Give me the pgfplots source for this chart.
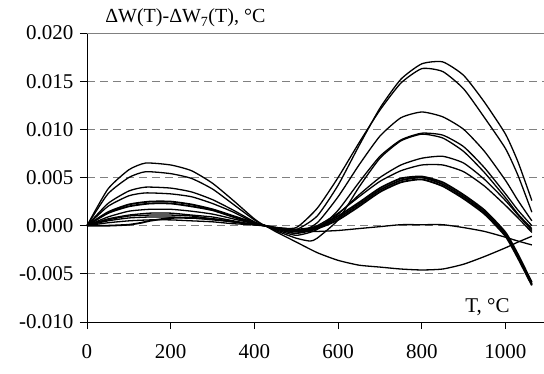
\documentclass[border=0pt]{standalone}
\usepackage{fontspec}
\setmainfont{Liberation Serif}
\usepackage{pgfplots}
\pgfplotsset{compat=1.18}
\pgfplotsset{
  thinc/.style={black, solid, mark=none, line width=1.3pt, smooth, tension=0.35},
  thickc/.style={black, solid, mark=none, line width=1.8pt, smooth, tension=0.35},
}
\begin{document}
\begin{tikzpicture}
\begin{axis}[
  scale only axis,
  width=457pt, height=289pt,
  xmin=0, xmax=1092, ymin=-0.010, ymax=0.020,
  axis x line*=bottom, axis y line*=left,
  axis line style={black, line width=0.9pt, -},
  xtick={0,200,400,600,800,1000},
  ytick={-0.010,-0.005,0,0.005,0.010,0.015,0.020},
  scaled y ticks=false,
  /pgf/number format/assume math mode=true,
  /pgf/number format/1000 sep={},
  yticklabel={\pgfmathprintnumber[fixed,fixed zerofill,precision=3,assume math mode=true]{\tick}},
  tick align=outside, major tick length=7pt,
  tick style={black, line width=0.9pt},
  ticklabel style={font=\fontsize{21}{21}\selectfont},
  xticklabel style={yshift=-12pt},
  yticklabel style={xshift=-3pt},
  ymajorgrids,
  grid style={gray, line width=0.9pt, dash pattern=on 8pt off 5pt},
  clip=false,
]
% A
\addplot[thinc] coordinates {(0,0)(50,0.0038)(100,0.0058)(140,0.0065)(200,0.0063)(250,0.0057)(300,0.0044)(350,0.0026)(400,0.0007)(425,0)(450,-0.0002)(500,-0.0004)(550,0.0010)(600,0.0042)(650,0.0083)(700,0.0122)(750,0.0152)(800,0.0168)(850,0.0170)(900,0.0156)(950,0.0128)(1000,0.0095)(1030,0.0066)(1063,0.0026)};
% B
\addplot[thinc] coordinates {(0,0)(50,0.0033)(100,0.0050)(140,0.0056)(200,0.0054)(250,0.0049)(300,0.0038)(350,0.0022)(400,0.0006)(425,0)(450,-0.0002)(500,-0.0002)(550,0.0018)(600,0.0050)(650,0.0086)(700,0.0120)(750,0.0148)(800,0.0163)(850,0.0160)(900,0.0142)(950,0.0112)(1000,0.0080)(1030,0.0052)(1063,0.0014)};
% C
\addplot[thinc] coordinates {(0,0)(50,0.0023)(100,0.0036)(140,0.0040)(200,0.0039)(250,0.0035)(300,0.0027)(350,0.0016)(400,0.0004)(425,0)(450,-0.0003)(500,-0.0008)(550,0.0003)(600,0.0030)(650,0.0063)(700,0.0093)(750,0.0112)(800,0.0118)(850,0.0113)(900,0.0100)(950,0.0077)(1000,0.0047)(1030,0.0026)(1063,0.0005)};
% D
\addplot[thinc] coordinates {(0,0)(50,0.0020)(100,0.0031)(140,0.0034)(200,0.0033)(250,0.0030)(300,0.0023)(350,0.0014)(400,0.0003)(425,0)(450,-0.0004)(500,-0.0010)(550,-0.0004)(600,0.0016)(650,0.0045)(700,0.0072)(750,0.0089)(800,0.0096)(850,0.0094)(900,0.0082)(950,0.0060)(1000,0.0033)(1030,0.0016)(1063,0.0000)};
% E
\addplot[thinc] coordinates {(0,0)(50,0.0009)(100,0.0015)(150,0.0017)(200,0.0017)(250,0.0015)(300,0.0012)(350,0.0007)(400,0.0002)(425,0)(450,-0.0005)(500,-0.0013)(533,-0.0016)(550,-0.0013)(600,0.0006)(650,0.0040)(700,0.0070)(750,0.0088)(800,0.0095)(850,0.0091)(900,0.0077)(950,0.0055)(1000,0.0029)(1030,0.0012)(1063,-0.0003)};
% F
\addplot[thinc] coordinates {(0,0)(50,0.0007)(100,0.0011)(150,0.0013)(200,0.0013)(250,0.0011)(300,0.0009)(350,0.0005)(400,0.0001)(425,0)(450,-0.0003)(500,-0.0008)(550,-0.0003)(600,0.0012)(650,0.0032)(700,0.0050)(750,0.0063)(800,0.0070)(850,0.0072)(900,0.0065)(950,0.0048)(1000,0.0026)(1030,0.0011)(1063,-0.0005)};
% G
\addplot[thinc] coordinates {(0,0)(50,0.0006)(100,0.0010)(150,0.0011)(200,0.0011)(250,0.0010)(300,0.0007)(350,0.0004)(400,0.0001)(425,0)(450,-0.0003)(500,-0.0006)(550,0.0000)(600,0.0013)(650,0.0030)(700,0.0046)(750,0.0057)(800,0.0063)(850,0.0063)(900,0.0056)(950,0.0041)(1000,0.0021)(1030,0.0008)(1063,-0.0007)};
% near zero
\addplot[thinc] coordinates {(0,0)(50,0.0005)(100,0.0008)(150,0.0009)(200,0.0009)(250,0.0008)(300,0.0006)(350,0.0004)(400,0.0001)(425,0)(450,-0.0003)(500,-0.0006)(550,-0.0006)(600,-0.0005)(650,-0.0003)(700,-0.0001)(750,0.0001)(800,0.0001)(850,0.0001)(900,-0.0002)(950,-0.0006)(1000,-0.0012)(1030,-0.0016)(1063,-0.0020)};
% negative
\addplot[thinc] coordinates {(0,0)(50,0.0003)(100,0.0005)(150,0.0006)(200,0.0006)(250,0.0005)(300,0.0004)(350,0.0002)(400,0.0001)(425,0)(450,-0.0006)(500,-0.0017)(550,-0.0028)(600,-0.0036)(650,-0.0041)(700,-0.0043)(750,-0.0045)(800,-0.0046)(850,-0.0045)(900,-0.0040)(950,-0.0032)(1000,-0.0023)(1030,-0.0017)(1063,-0.0011)};
% thick bundle
\addplot[thickc] coordinates {(0,0)(50,0.0014)(100,0.0022)(150,0.0025)(200,0.0025)(250,0.0022)(300,0.0017)(350,0.0010)(400,0.0003)(425,0)(450,-0.0002)(500,-0.0005)(550,-0.0002)(600,0.0008)(650,0.0022)(700,0.0037)(750,0.0047)(800,0.0050)(850,0.0043)(900,0.0030)(950,0.0014)(1000,-0.0009)(1030,-0.0032)(1063,-0.0061)};
\addplot[thickc] coordinates {(0,0)(50,0.0013)(100,0.0020)(150,0.0023)(200,0.0023)(250,0.0020)(300,0.0016)(350,0.0009)(400,0.0002)(425,0)(450,-0.0003)(500,-0.0006)(550,-0.0003)(600,0.0006)(650,0.0020)(700,0.0035)(750,0.0045)(800,0.0048)(850,0.0041)(900,0.0028)(950,0.0012)(1000,-0.0011)(1030,-0.0034)(1063,-0.0062)};
\addplot[thickc] coordinates {(0,0)(50,0)(100,0.0001)(130,0.0003)(150,0.0005)(200,0.0008)(250,0.0008)(300,0.0007)(350,0.0004)(400,0.0001)(425,0)(450,-0.0002)(500,-0.0004)(550,-0.0001)(600,0.0010)(650,0.0024)(700,0.0039)(750,0.0049)(800,0.0051)(850,0.0045)(900,0.0032)(950,0.0016)(1000,-0.0007)(1030,-0.0030)(1063,-0.0059)};
\draw[gray, line width=1pt] (rel axis cs:0,1) -- (rel axis cs:1,1);
\node[anchor=base, font=\fontsize{20}{20}\selectfont] at (axis cs:235,0.02104) {ΔW(T)-ΔW\textsubscript{7}(T), °C};
\node[anchor=center, font=\fontsize{21}{21}\selectfont] at (axis cs:957,-0.0085) {T, °C};
\end{axis}
\pgfresetboundingbox
\path[use as bounding box] ([xshift=-87pt,yshift=-51pt]current axis.south west) rectangle ([yshift=33pt]current axis.north east);
\end{tikzpicture}
\end{document}
